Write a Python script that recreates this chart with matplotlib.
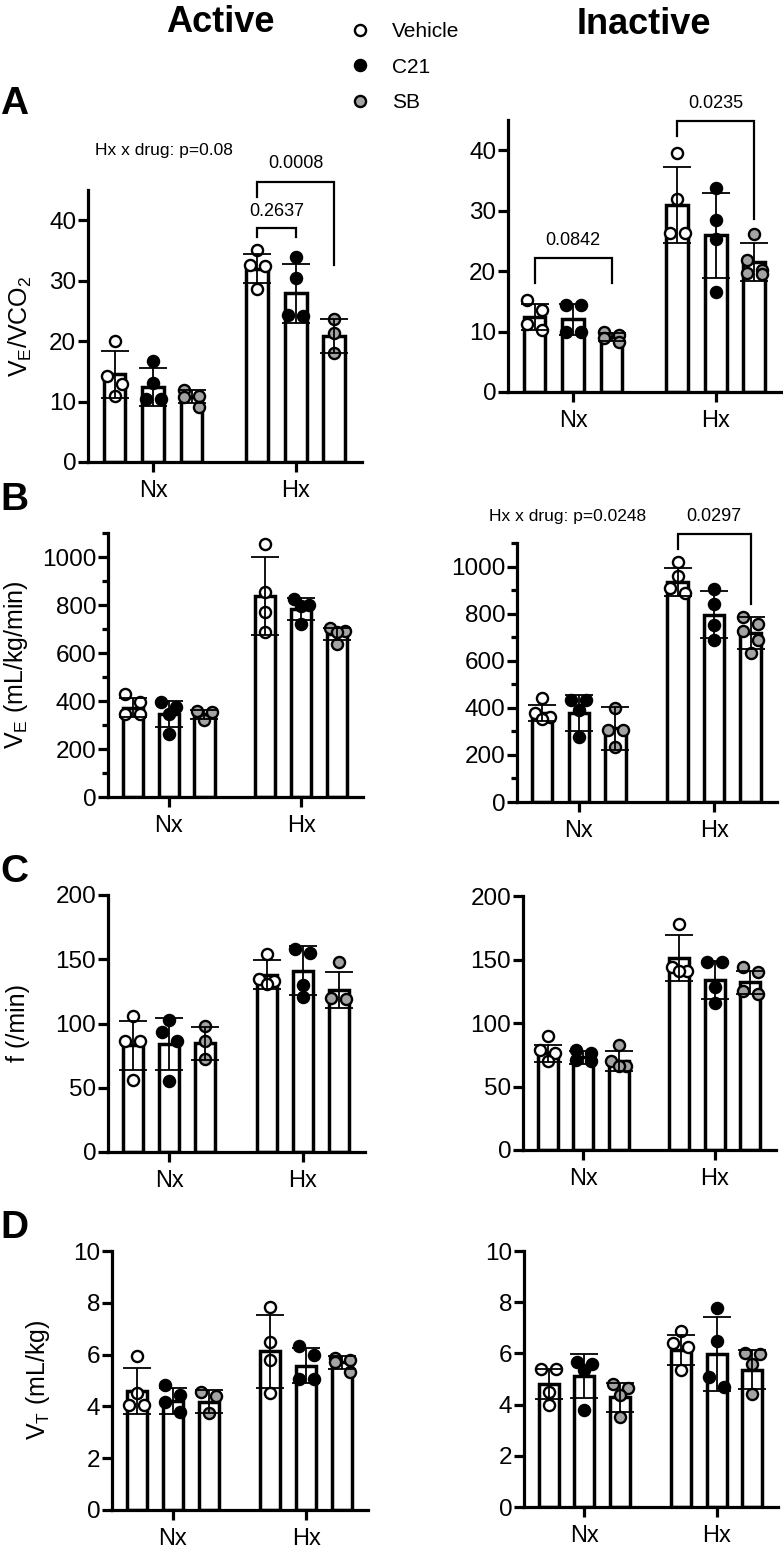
import numpy as np
import matplotlib
matplotlib.use('Agg')
import matplotlib.pyplot as plt
from matplotlib.lines import Line2D
from matplotlib.ticker import MultipleLocator

plt.rcParams['font.family'] = ['Liberation Sans', 'DejaVu Sans']
plt.rcParams['mathtext.fontset'] = 'custom'
plt.rcParams['mathtext.rm'] = 'Liberation Sans'
plt.rcParams['mathtext.it'] = 'Liberation Sans:italic'
plt.rcParams['mathtext.bf'] = 'Liberation Sans:bold'

W, H = 783, 1554

groups = ['Nx', 'Hx']
drugs = ['Vehicle', 'C21', 'SB']
drug_face = ['white', 'black', '#a3a3a3']

# order in every list: Nx-Vehicle, Nx-C21, Nx-SB, Hx-Vehicle, Hx-C21, Hx-SB
# A: VE/VCO2
a_act_mean = [14.5, 12.4, 10.8, 32.0, 27.9, 20.8]
a_act_sd = [3.9, 3.1, 1.1, 2.4, 4.9, 2.8]
a_act_pts = [[20.1, 14.3, 12.9, 11.0], [16.7, 13.0, 10.5, 10.4], [11.9, 10.9, 10.8, 9.1],
             [35.1, 32.6, 32.4, 28.7], [33.9, 30.4, 24.3, 24.2], [23.6, 21.4, 18.1]]
a_ina_mean = [12.4, 12.0, 9.1, 30.9, 25.9, 21.5]
a_ina_sd = [2.2, 2.6, 0.7, 6.3, 7.1, 3.2]
a_ina_pts = [[15.2, 13.5, 11.3, 10.2], [14.4, 14.4, 9.9, 9.9], [9.9, 9.5, 8.9, 8.2],
             [39.6, 32.0, 26.3, 26.3], [33.7, 28.5, 25.3, 16.6], [26.1, 21.8, 20.2, 19.7, 19.5]]

# B: VE (mL/kg/min)
b_act_mean = [372, 345, 345, 838, 782, 680]
b_act_sd = [40, 55, 18, 162, 46, 25]
b_act_pts = [[431, 396, 347, 345], [396, 375, 347, 264], [357, 354, 322],
             [1056, 854, 771, 688], [826, 800, 795, 720], [706, 693, 688, 639]]
b_ina_mean = [377, 378, 313, 935, 796, 718]
b_ina_sd = [35, 75, 92, 58, 100, 69]
b_ina_pts = [[441, 377, 363, 351], [434, 434, 391, 277], [398, 306, 306, 235],
             [1020, 960, 910, 889], [906, 843, 751, 687], [786, 757, 725, 690, 633]]

# C: f (/min)
c_act_mean = [83, 84, 84.5, 138, 141, 126]
c_act_sd = [19, 20, 13, 11.5, 19, 14]
c_act_pts = [[106, 86, 86, 56], [103, 93, 86, 55], [98, 86, 72],
             [154, 135, 133, 131], [158, 155, 130, 121], [148, 120, 119]]
c_ina_mean = [76, 73, 70, 151, 134, 132]
c_ina_sd = [7, 5, 8, 18, 15, 9]
c_ina_pts = [[90, 79, 76, 70], [79, 76, 71, 70], [83, 70, 66, 66],
             [178, 144, 141, 141], [148, 148, 128, 116], [144, 140, 125, 123]]

# D: VT (mL/kg)
d_act_mean = [4.6, 4.2, 4.18, 6.12, 5.57, 5.7]
d_act_sd = [0.9, 0.5, 0.45, 1.42, 0.68, 0.25]
d_act_pts = [[5.94, 4.5, 4.05, 4.05], [4.82, 4.43, 4.18, 3.79], [4.55, 4.4, 3.73],
             [7.84, 6.49, 5.78, 4.52], [6.34, 5.98, 5.04, 5.04], [5.85, 5.78, 5.72, 5.33]]
d_ina_mean = [4.8, 5.1, 4.28, 6.13, 5.97, 5.37]
d_ina_sd = [0.6, 0.86, 0.55, 0.6, 1.45, 0.75]
d_ina_pts = [[5.4, 5.4, 4.5, 4.0], [5.67, 5.6, 5.34, 3.8], [4.8, 4.63, 4.37, 3.5],
             [6.88, 6.39, 6.26, 5.35], [7.76, 6.49, 5.06, 4.67], [6.02, 5.97, 5.6, 4.43]]

bar_x = np.array([0, 1, 2, 3.7, 4.7, 5.7])
group_x = [1, 4.7]


def px_rect(x0, top, x1, bottom):
    return [x0 / W, 1 - bottom / H, (x1 - x0) / W, (bottom - top) / H]


def swarm_x(ax, xc, vals, step=15, near=11):
    # points closer than `near` px go side by side (max two per row), like Prism
    to_px = ax.transData.transform
    ppu = to_px((1, 0))[0] - to_px((0, 0))[0]
    order = sorted(range(len(vals)), key=lambda i: -vals[i])
    rows = []
    for i in order:
        y = to_px((xc, vals[i]))[1]
        if rows and len(rows[-1]) < 2 and rows[-1][0][1] - y < near:
            rows[-1].append((i, y))
        else:
            rows.append([(i, y)])
    xs = [xc] * len(vals)
    for row in rows:
        m = len(row)
        for k, (i, y) in enumerate(row):
            xs[i] = xc + (k - (m - 1) / 2) * step / ppu
    return xs


def draw_panel(ax, means, sds, pts, ytop, major, minor=None, tick_fs=17.5):
    ax.set_xlim(-0.69, 6.42)
    ax.set_ylim(0, ytop)
    ax.bar(bar_x, means, width=0.56, color='white', edgecolor='black', linewidth=2.5, zorder=1)
    for i, vals in enumerate(pts):
        xs = swarm_x(ax, bar_x[i], vals)
        ax.plot(xs, vals, 'o', ls='none', ms=8, mfc=drug_face[i % 3], mec='black', mew=1.7,
                zorder=2, clip_on=False)
    ax.errorbar(bar_x, means, yerr=sds, fmt='none', ecolor='black', elinewidth=1.3,
                capsize=10, capthick=1.3, zorder=3)
    for s in ['top', 'right']:
        ax.spines[s].set_visible(False)
    for s in ['left', 'bottom']:
        ax.spines[s].set_linewidth(2.3)
    ax.set_xticks(group_x, groups)
    ax.yaxis.set_major_locator(MultipleLocator(major))
    if minor:
        ax.yaxis.set_minor_locator(MultipleLocator(minor))
        ax.tick_params(axis='y', which='minor', length=4.5, width=2.3)
    ax.tick_params(axis='y', which='major', length=7.5, width=2.3, labelsize=tick_fs, pad=1)
    ax.tick_params(axis='x', length=7, width=2.3, labelsize=17, pad=6)


def bracket(ax, i1, i2, ytop, yl1, yl2, label, ytext):
    x1, x2 = bar_x[i1], bar_x[i2]
    ax.plot([x1, x1, x2, x2], [yl1, ytop, ytop, yl2], color='black', lw=1.6, clip_on=False,
            solid_joinstyle='miter', zorder=4)
    ax.text((x1 + x2) / 2, ytext, label, ha='center', va='center', fontsize=13)


fig = plt.figure(figsize=(W / 100, H / 100), dpi=100)

ax_a1 = fig.add_axes(px_rect(88, 190, 362, 462))
draw_panel(ax_a1, a_act_mean, a_act_sd, a_act_pts, 45, 10)
bracket(ax_a1, 3, 4, 38.7, 37.3, 37.3, '0.2637', 41.4)
bracket(ax_a1, 3, 5, 46.4, 43.9, 32.6, '0.0008', 49.4)
ax_a1.text(1.27, 51.6, 'Hx x drug: p=0.08', ha='center', va='center', fontsize=12.5)

ax_a2 = fig.add_axes(px_rect(508, 120, 782, 392))
draw_panel(ax_a2, a_ina_mean, a_ina_sd, a_ina_pts, 45, 10)
bracket(ax_a2, 0, 2, 22.1, 18.0, 18.0, '0.0842', 25.1)
bracket(ax_a2, 3, 5, 44.8, 42.3, 28.7, '0.0235', 47.8)

ax_b1 = fig.add_axes(px_rect(108, 533, 363, 797))
draw_panel(ax_b1, b_act_mean, b_act_sd, b_act_pts, 1100, 200, 100)

ax_b2 = fig.add_axes(px_rect(517, 543, 777, 802))
draw_panel(ax_b2, b_ina_mean, b_ina_sd, b_ina_pts, 1100, 200, 100)
bracket(ax_b2, 3, 5, 1138, 1075, 840, '0.0297', 1212)
ax_b2.text(0.69, 1212, 'Hx x drug: p=0.0248', ha='center', va='center', fontsize=12.5)

ax_c1 = fig.add_axes(px_rect(108, 895, 365, 1152))
draw_panel(ax_c1, c_act_mean, c_act_sd, c_act_pts, 200, 50)

ax_c2 = fig.add_axes(px_rect(523, 896, 776, 1150))
draw_panel(ax_c2, c_ina_mean, c_ina_sd, c_ina_pts, 200, 50)

ax_d1 = fig.add_axes(px_rect(112, 1251, 368, 1510))
draw_panel(ax_d1, d_act_mean, d_act_sd, d_act_pts, 10, 2)

ax_d2 = fig.add_axes(px_rect(524, 1251, 778, 1507))
draw_panel(ax_d2, d_ina_mean, d_ina_sd, d_ina_pts, 10, 2)

# y labels
ylab = [(20, 326, r'V$_{\mathrm{E}}$/VCO$_{\mathrm{2}}$'),
        (16, 665, r'V$_{\mathrm{E}}$ (mL/kg/min)'),
        (18, 1023, 'f (/min)'),
        (38, 1380, r'V$_{\mathrm{T}}$ (mL/kg)')]
for x, y, s in ylab:
    fig.text(x / W, 1 - y / H, s, rotation=90, ha='center', va='center', fontsize=18)

# panel letters and column titles
for x, y, s in [(14, 104, 'A'), (14, 500, 'B'), (14, 872, 'C'), (14, 1228, 'D')]:
    fig.text(x / W, 1 - y / H, s, ha='center', va='center', fontsize=28, fontweight='bold')
fig.text(220 / W, 1 - 23 / H, 'Active', ha='center', va='center', fontsize=26, fontweight='bold')
fig.text(644 / W, 1 - 25 / H, 'Inactive', ha='center', va='center', fontsize=26, fontweight='bold')

handles = [Line2D([], [], marker='o', ls='none', ms=8, mfc=f, mec='black', mew=1.7)
           for f in drug_face]
fig.legend(handles, drugs, loc='upper left', bbox_to_anchor=(350 / W, 1 - 22 / H),
           frameon=False, fontsize=15, handlelength=1.0, handletextpad=1.0,
           labelspacing=0.8, borderpad=0, borderaxespad=0)

fig.savefig('out.png', dpi=100)
